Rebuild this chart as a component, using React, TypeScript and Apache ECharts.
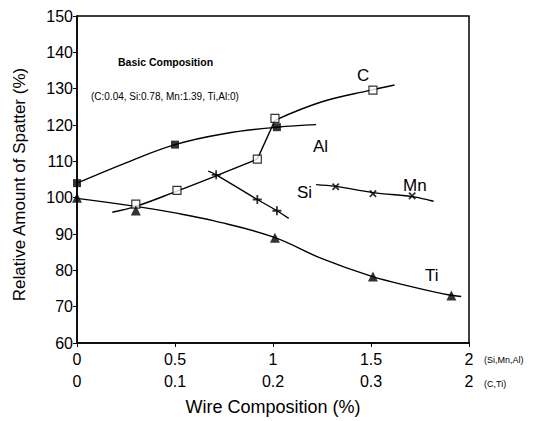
import React, { useEffect, useRef } from "react";
import * as echarts from "echarts";

// Tick labels
const xPrimaryLabels = ["0", "0.5", "1", "1.5", "2"]; // Si, Mn, Al
const xSecondaryLabels = ["0", "0.1", "0.2", "0.3", "2"]; // C, Ti

// Al (filled squares), Si/Mn/Al scale
const alPointsX = [0, 0.5, 1.02];
const alPointsY = [104, 114.6, 119.4];
const alCurveX = [0, 0.25, 0.5, 0.75, 1.02, 1.22];
const alCurveY = [104, 109.6, 114.6, 117.6, 119.4, 120.1];

// C (open squares), C/Ti scale
const cPointsX = [0.06, 0.102, 0.184, 0.202, 0.302];
const cPointsY = [98.2, 102, 110.6, 121.8, 129.6];
const cCurveLowX = [0.036, 0.06, 0.1, 0.14, 0.184];
const cCurveLowY = [96, 97.6, 101.6, 105.8, 110.6];
const cCurveMidX = [0.184, 0.202];
const cCurveMidY = [110.6, 121.3];
const cCurveHighX = [0.202, 0.25, 0.3, 0.324];
const cCurveHighY = [121.3, 126.4, 129.6, 131];

// Ti (filled triangles), C/Ti scale
const tiPointsX = [0, 0.06, 0.202, 0.302, 0.382];
const tiPointsY = [100, 96.5, 89, 78.3, 73.1];
const tiCurveX = [0, 0.06, 0.1, 0.14, 0.2, 0.25, 0.3, 0.34, 0.38, 0.392];
const tiCurveY = [99.8, 97.6, 95.8, 93.6, 89.2, 83.2, 78.4, 75.6, 73.2, 72.8];

// Si (plus markers), Si/Mn/Al scale
const siPointsX = [0.71, 0.92, 1.02];
const siPointsY = [106.3, 99.5, 96.4];
const siCurveX = [0.67, 0.71, 0.92, 1.02, 1.08];
const siCurveY = [107.3, 106.3, 99.5, 96.4, 94.3];

// Mn (cross markers), Si/Mn/Al scale
const mnPointsX = [1.32, 1.51, 1.71];
const mnPointsY = [103, 101.1, 100.5];
const mnCurveX = [1.22, 1.32, 1.51, 1.71, 1.82];
const mnCurveY = [103.6, 103.1, 101.4, 100.3, 99];

const zip = (xs: number[], ys: number[]) => xs.map((x, i) => [x, ys[i]]);

const FONT = "'Liberation Sans', Arial, sans-serif";
const PLUS = "path://M4,0H6V4H10V6H6V10H4V6H0V4H4Z";

export default function App() {
  const ref = useRef<HTMLDivElement>(null);
  useEffect(() => {
    if (!ref.current) return;
    const chart = echarts.init(ref.current, undefined, { renderer: "svg" });
    const curve = (name: string, xs: number[], ys: number[], axis: number, smooth: number = 0.4) => ({
      name,
      type: "line",
      xAxisIndex: axis,
      data: zip(xs, ys),
      smooth,
      showSymbol: false,
      symbol: "none",
      lineStyle: { color: "#000", width: 1.4 },
      z: 2,
    });
    const pts = (
      name: string,
      xs: number[],
      ys: number[],
      axis: number,
      symbol: string,
      size: number,
      itemStyle: any,
      rotate = 0
    ) => ({
      name,
      type: "scatter",
      xAxisIndex: axis,
      data: zip(xs, ys),
      symbol,
      symbolSize: size,
      symbolRotate: rotate,
      itemStyle,
      z: 3,
    });
    const label = (text: string, left: number, top: number) => ({
      type: "text",
      left,
      top,
      style: { text, fontFamily: FONT, fontSize: 17, fill: "#000" },
    });
    chart.setOption({
      animation: false,
      backgroundColor: "#fff",
      grid: {
        left: 77,
        right: 69,
        top: 16,
        bottom: 75,
        show: true,
        borderColor: "#000",
        borderWidth: 1.5,
      },
      xAxis: [
        {
          type: "value",
          min: 0,
          max: 2,
          interval: 0.5,
          position: "bottom",
          axisLine: { show: true, lineStyle: { color: "#000", width: 1.5 } },
          axisTick: { show: true, length: 4, lineStyle: { color: "#000" } },
          splitLine: { show: false },
          axisLabel: {
            color: "#000",
            fontFamily: FONT,
            fontSize: 16,
            margin: 8,
            formatter: (_v: number, i: number) => xPrimaryLabels[i] ?? "",
          },
          name: "Wire Composition (%)",
          nameLocation: "middle",
          nameGap: 55,
          nameTextStyle: { color: "#000", fontFamily: FONT, fontSize: 18 },
        },
        {
          type: "value",
          min: 0,
          max: 0.4,
          interval: 0.1,
          position: "bottom",
          offset: 22,
          axisLine: { show: false },
          axisTick: { show: false },
          splitLine: { show: false },
          axisLabel: {
            color: "#000",
            fontFamily: FONT,
            fontSize: 16,
            margin: 8,
            formatter: (_v: number, i: number) => xSecondaryLabels[i] ?? "",
          },
        },
      ],
      yAxis: {
        type: "value",
        min: 60,
        max: 150,
        interval: 10,
        axisLine: { show: true, lineStyle: { color: "#000", width: 1.5 } },
        axisTick: { show: true, length: 4, lineStyle: { color: "#000" } },
        splitLine: { show: false },
        axisLabel: { color: "#000", fontFamily: FONT, fontSize: 16, margin: 4 },
        name: "Relative Amount of Spatter (%)",
        nameLocation: "middle",
        nameGap: 49,
        nameTextStyle: { color: "#000", fontFamily: FONT, fontSize: 17, padding: [0, 10, 0, 0] },
      },
      series: [
        curve("AlCurve", alCurveX, alCurveY, 0),
        pts("Al", alPointsX, alPointsY, 0, "rect", 8, { color: "#000" }),
        curve("CCurveLow", cCurveLowX, cCurveLowY, 1),
        curve("CCurveMid", cCurveMidX, cCurveMidY, 1, 0),
        curve("CCurveHigh", cCurveHighX, cCurveHighY, 1),
        pts("C", cPointsX, cPointsY, 1, "rect", 8, {
          color: "#fff",
          borderColor: "#000",
          borderWidth: 1.2,
        }),
        curve("TiCurve", tiCurveX, tiCurveY, 1),
        pts("Ti", tiPointsX, tiPointsY, 1, "triangle", 10, { color: "#000" }),
        curve("SiCurve", siCurveX, siCurveY, 0),
        pts("Si", siPointsX, siPointsY, 0, PLUS, 9, { color: "#000" }),
        curve("MnCurve", mnCurveX, mnCurveY, 0),
        pts("Mn", mnPointsX, mnPointsY, 0, PLUS, 9, { color: "#000" }, 45),
      ],
      graphic: [
        {
          type: "text",
          left: 118,
          top: 56,
          style: {
            text: "Basic Composition",
            fontFamily: FONT,
            fontSize: 10.5,
            fontWeight: "bold",
            fill: "#000",
          },
        },
        {
          type: "text",
          left: 91,
          top: 91,
          style: {
            text: "(C:0.04, Si:0.78, Mn:1.39, Ti,Al:0)",
            fontFamily: FONT,
            fontSize: 10,
            fill: "#000",
          },
        },
        label("C", 357, 67),
        label("Al", 313, 138),
        label("Si", 297, 184),
        label("Mn", 403, 177),
        label("Ti", 425, 267),
        {
          type: "text",
          left: 484,
          top: 355,
          style: { text: "(Si,Mn,Al)", fontFamily: FONT, fontSize: 9, fill: "#000" },
        },
        {
          type: "text",
          left: 484,
          top: 379,
          style: { text: "(C,Ti)", fontFamily: FONT, fontSize: 9, fill: "#000" },
        },
      ],
    });
    return () => chart.dispose();
  }, []);
  return (
    <div
      ref={ref}
      style={{ position: "fixed", left: 0, top: 0, width: 538, height: 421, background: "#fff" }}
    />
  );
}
